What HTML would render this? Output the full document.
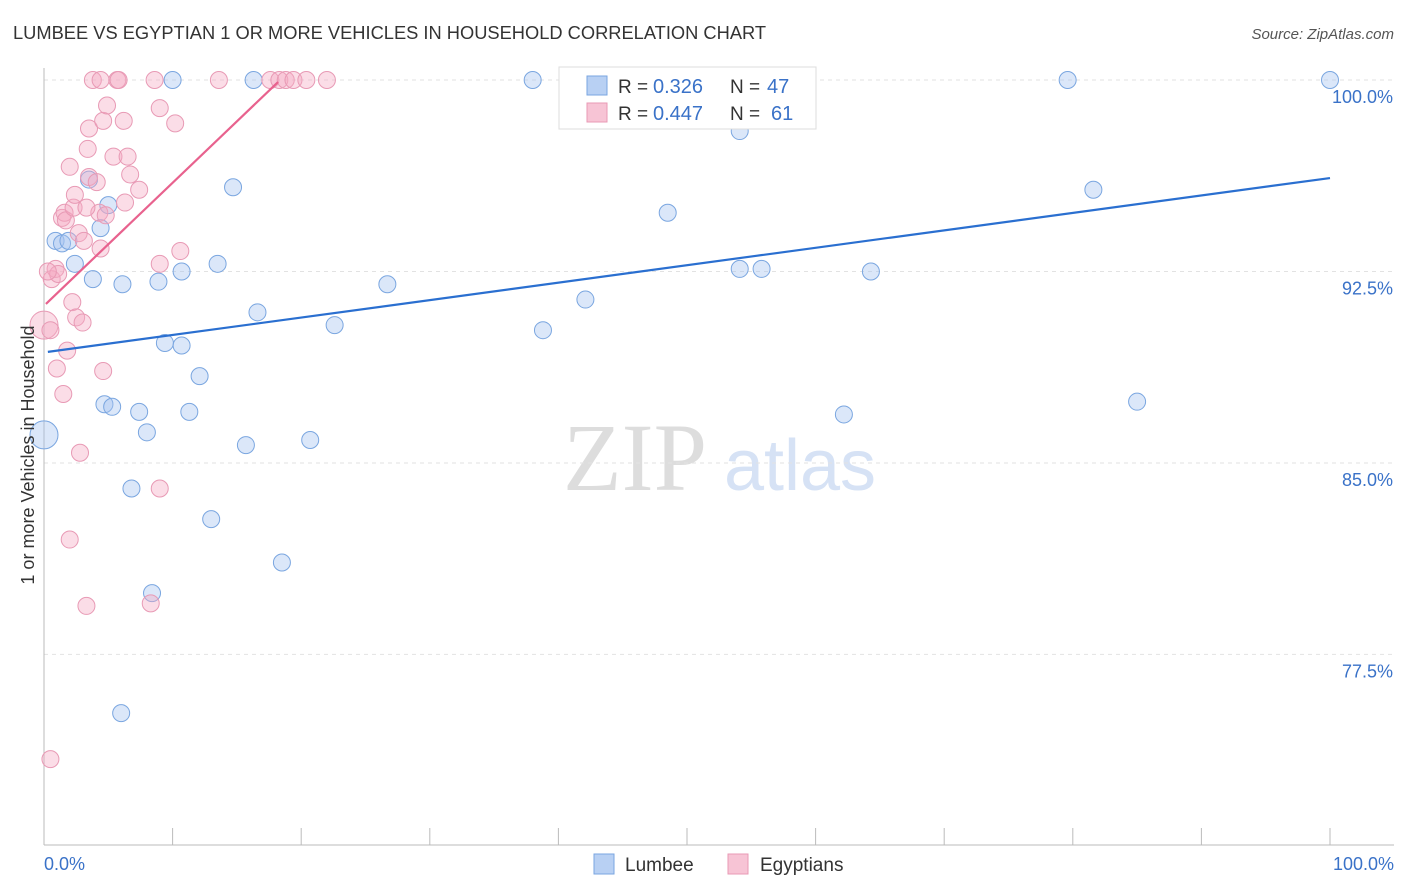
<!DOCTYPE html>
<html><head><meta charset="utf-8"><style>
body{margin:0;background:#fff;font-family:"Liberation Sans",sans-serif}
svg{display:block}
</style></head><body>
<svg id="chart" width="1406" height="892" xmlns="http://www.w3.org/2000/svg">
<text x="13" y="39" font-size="18.3" fill="#333">LUMBEE VS EGYPTIAN 1 OR MORE VEHICLES IN HOUSEHOLD CORRELATION CHART</text>
<text x="1394" y="39" font-size="15" fill="#555" font-style="italic" text-anchor="end">Source: ZipAtlas.com</text>
<g>
<text x="635" y="490" font-size="96" fill="#ddd" font-family="Liberation Serif" text-anchor="middle">ZIP</text>
<text x="800" y="490" font-size="72" fill="#d6e2f5" text-anchor="middle">atlas</text>
</g>
<g id="grid"></g>
<g id="axes"></g>
<g id="points"></g>
<g id="lines"></g>
<text transform="translate(34,455) rotate(-90)" font-size="18" fill="#333" text-anchor="middle">1 or more Vehicles in Household</text>
<g>
<rect x="559" y="67" width="257" height="62" fill="#fff" stroke="#ddd"/>
<rect x="587" y="76" width="20" height="19" fill="#b8d0f3" stroke="#7aa6e0"/>
<text x="618" y="93" font-size="19" fill="#333">R =</text>
<text x="653" y="93" font-size="20" fill="#3a72c8">0.326</text>
<text x="730" y="93" font-size="19" fill="#333">N =</text>
<text x="767" y="93" font-size="20" fill="#3a72c8">47</text>
<rect x="587" y="103" width="20" height="19" fill="#f7c4d5" stroke="#e89ab5"/>
<text x="618" y="120" font-size="19" fill="#333">R =</text>
<text x="653" y="120" font-size="20" fill="#3a72c8">0.447</text>
<text x="730" y="120" font-size="19" fill="#333">N =</text>
<text x="771" y="120" font-size="20" fill="#3a72c8">61</text>
</g>
<g>
<rect x="594" y="854" width="20" height="20" fill="#b8d0f3" stroke="#7aa6e0"/>
<text x="625" y="871" font-size="19" fill="#333">Lumbee</text>
<rect x="728" y="854" width="20" height="20" fill="#f7c4d5" stroke="#e89ab5"/>
<text x="760" y="871" font-size="19" fill="#333">Egyptians</text>
</g>
</svg>
<script>
const yTicks=[100,92.5,85,77.5];
const yTickLabels=["100.0%","92.5%","85.0%","77.5%"];
const xTicks=[0,10,20,30,40,50,60,70,80,90,100];
const lumbeeX=[0,0.9,1.4,1.9,2.4,3.5,3.8,4.4,5,4.7,5.3,6.1,6.8,7.4,8,8.4,8.9,9.4,10,10.7,10.7,11.3,12.1,13,13.5,14.7,15.7,16.3,16.6,18.5,20.7,22.6,26.7,38,38.8,42.1,48.5,54.1,54.1,55.8,62.2,64.3,79.6,81.6,85,100,6];
const lumbeeY=[86.1,93.7,93.6,93.7,92.8,96.1,92.2,94.2,95.1,87.3,87.2,92,84,87,86.2,79.9,92.1,89.7,100,92.5,89.6,87,88.4,82.8,92.8,95.8,85.7,100,90.9,81.1,85.9,90.4,92,100,90.2,91.4,94.8,98,92.6,92.6,86.9,92.5,100,95.7,87.4,100,75.2];
const egyX=[0,0.5,0.6,0.9,1,1.1,1.4,1.5,1.6,1.7,1.8,2,2,2.2,2.3,2.4,2.5,2.7,2.8,3,3.1,3.3,3.4,3.5,3.5,3.8,4.1,4.3,4.4,4.4,4.6,4.6,4.8,4.9,5.4,5.7,5.8,6.2,6.3,6.5,6.7,7.4,8.3,8.6,9,9,9,10.2,10.6,13.6,17.6,18.3,18.8,19.4,20.4,22,0.5,0.3,3.3];
const egyY=[90.4,90.2,92.2,92.6,88.7,92.4,94.6,87.7,94.8,94.5,89.4,96.6,82,91.3,95,95.5,90.7,94,85.4,90.5,93.7,79.4,97.3,98.1,96.2,100,96,94.8,93.4,100,88.6,98.4,94.7,99,97,100,100,98.4,95.2,97,96.3,95.7,79.5,100,84,98.9,92.8,98.3,93.3,100,100,100,100,100,100,100,73.4,92.5,95];
const lumbeeTrend=[[0.3,89.35],[100,96.16]];
const egyTrend=[[0.15,91.23],[18.2,99.92]];
const NS="http://www.w3.org/2000/svg";
const X=v=>44+v*12.86, Y=v=>80+(100-v)*25.53;
function mk(tag,attrs,parent){const e=document.createElementNS(NS,tag);for(const k in attrs)e.setAttribute(k,attrs[k]);document.getElementById(parent).appendChild(e);return e;}
yTicks.forEach((t,i)=>{
 const l=mk('line',{x1:44,x2:1394,y1:Y(t),y2:Y(t),stroke:'#e2e2e2','stroke-dasharray':'4,4'},'grid');
 
 
 const tx=mk('text',{x:1393,y:Y(t)+23,'font-size':18,fill:'#3a72c8','text-anchor':'end'},'axes');
 tx.textContent=yTickLabels[i];
 
 
});
let a=mk('line',{x1:44,x2:44,y1:68,y2:845,stroke:'#bbb'},'axes');


a=mk('line',{x1:44,x2:1394,y1:845,y2:845,stroke:'#bbb'},'axes');


xTicks.forEach(t=>{const l=mk('line',{x1:X(t),x2:X(t),y1:828,y2:845,stroke:'#bbb'},'axes');
 
 });
let t0=mk('text',{x:44,y:870,'font-size':18,fill:'#3a72c8'},'axes');t0.textContent='0.0%';


let t1=mk('text',{x:1394,y:870,'font-size':18,fill:'#3a72c8','text-anchor':'end'},'axes');t1.textContent='100.0%';


function pts(xs,ys,fill,stroke,name){xs.forEach((x,i)=>{const r=(x===0)?14:8.5;
 const c=mk('circle',{cx:X(x),cy:Y(ys[i]),r:r,fill:fill,stroke:stroke,'stroke-width':1},'points');
 
 });}
pts(lumbeeX,lumbeeY,'rgba(164,196,240,0.4)','#7aa6e0','lumbee-point');
pts(egyX,egyY,'rgba(244,170,195,0.4)','#e89ab5','egyptians-point');
let ln=mk('line',{x1:X(lumbeeTrend[0][0]),y1:Y(lumbeeTrend[0][1]),x2:X(lumbeeTrend[1][0]),y2:Y(lumbeeTrend[1][1]),stroke:'#2a6fd0','stroke-width':2.2},'lines');


ln=mk('line',{x1:X(egyTrend[0][0]),y1:Y(egyTrend[0][1]),x2:X(egyTrend[1][0]),y2:Y(egyTrend[1][1]),stroke:'#e8628e','stroke-width':2.2},'lines');


</script>
</body></html>
